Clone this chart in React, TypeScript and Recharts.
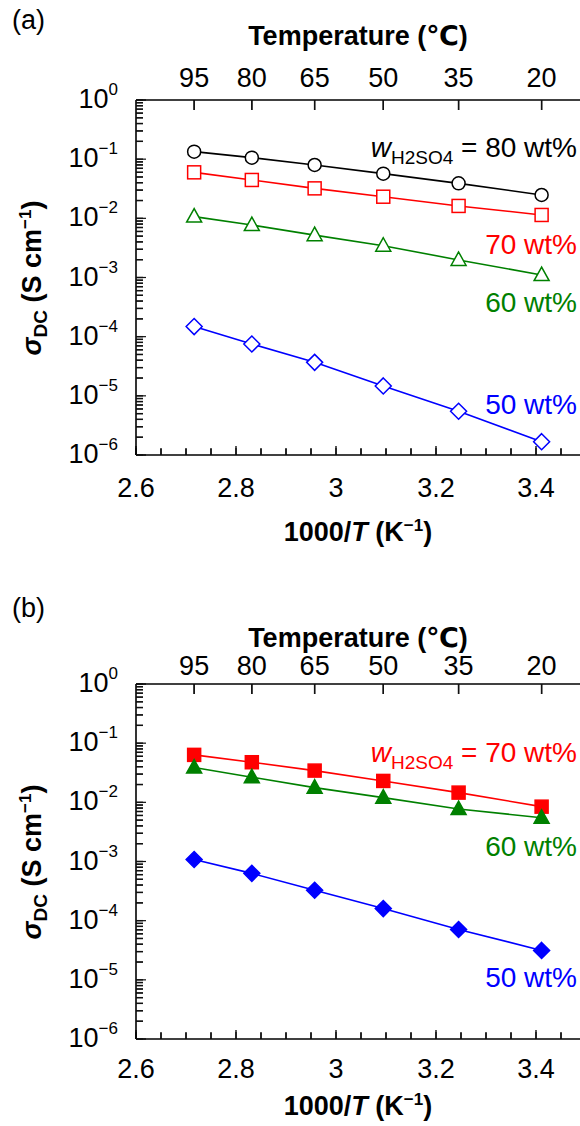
import React from 'react';
import { LineChart, Line, XAxis, YAxis, ReferenceLine } from 'recharts';

const FONT = '"Liberation Sans", Arial, "DejaVu Sans", sans-serif';

// measurement temperatures (top axis) and their 1000/T positions
const tempC = [95, 80, 65, 50, 35, 20];
const invT = tempC.map((t) => 1000 / (t + 273.15));

// panel (a) - open symbols
const a80 = [0.134, 0.106, 0.0797, 0.0569, 0.039, 0.0248];
const a70 = [0.0599, 0.0445, 0.0321, 0.0232, 0.0162, 0.0114];
const a60 = [0.0107, 0.0077, 0.0052, 0.00345, 0.00198, 0.0011];
const a50 = [1.48e-4, 7.5e-5, 3.68e-5, 1.47e-5, 5.5e-6, 1.68e-6];

// panel (b) - filled symbols
const b70 = [0.0634, 0.0476, 0.0344, 0.023, 0.0146, 0.00845];
const b60 = [0.0387, 0.0266, 0.0177, 0.012, 0.0077, 0.0055];
const b50 = [1.08e-3, 6.3e-4, 3.27e-4, 1.6e-4, 7.1e-5, 3.14e-5];

const xMajor = [2.6, 2.8, 3, 3.2, 3.4];
const xMinor = [2.65, 2.7, 2.75, 2.85, 2.9, 2.95, 3.05, 3.1, 3.15, 3.25, 3.3, 3.35, 3.45];
const decades = [-6, -5, -4, -3, -2, -1, 0];
const mantissas = [1, 2, 3, 4, 5, 6, 7, 8, 9];

const X_MIN = 2.6;
const X_MAX = 3.488;
const Y_MIN = 1e-6;
const Y_MAX = 1;

const xTicks = [...xMajor, ...xMinor].sort((p, q) => p - q);
const yTicks = decades
  .flatMap((d) => mantissas.map((m) => m * Math.pow(10, d)))
  .filter((v) => v <= 1.0000001);

// plot box is 444 x 355 px; used to turn tick lengths into data units
const DEC_PX = 355 / 6;
const X_PX = 444 / (X_MAX - X_MIN);

type Shape = 'circle' | 'square' | 'triangle' | 'diamond';
interface Series {
  name: string;
  values: number[];
  color: string;
  shape: Shape;
  filled: boolean;
}

const seriesA: Series[] = [
  { name: '80', values: a80, color: '#000000', shape: 'circle', filled: false },
  { name: '70', values: a70, color: '#ff0000', shape: 'square', filled: false },
  { name: '60', values: a60, color: '#008000', shape: 'triangle', filled: false },
  { name: '50', values: a50, color: '#0000ff', shape: 'diamond', filled: false },
];
const seriesB: Series[] = [
  { name: '70', values: b70, color: '#ff0000', shape: 'square', filled: true },
  { name: '60', values: b60, color: '#008000', shape: 'triangle', filled: true },
  { name: '50', values: b50, color: '#0000ff', shape: 'diamond', filled: true },
];

const isXMajor = (v: number) => xMajor.some((m) => Math.abs(m - v) < 1e-9);
const isYMajor = (v: number) => {
  const e = Math.floor(Math.log10(v) + 1e-9);
  return Math.abs(v / Math.pow(10, e) - 1) < 1e-6;
};

const makeDot = (s: Series) => (props: any) => {
  const { cx, cy, index } = props;
  if (cx == null || cy == null) return <g key={index} />;
  const fill = s.filled ? s.color : '#ffffff';
  const common = { fill, stroke: s.color, strokeWidth: 1.5 };
  if (s.shape === 'circle') return <circle key={index} cx={cx} cy={cy} r={6.5} {...common} />;
  if (s.shape === 'square') return <rect key={index} x={cx - 6.5} y={cy - 6.5} width={13} height={13} {...common} />;
  if (s.shape === 'triangle')
    return <polygon key={index} points={`${cx},${cy - 8} ${cx - 7.5},${cy + 5.5} ${cx + 7.5},${cy + 5.5}`} {...common} />;
  return <polygon key={index} points={`${cx},${cy - 8} ${cx + 8},${cy} ${cx},${cy + 8} ${cx - 8},${cy}`} {...common} />;
};

const tickStroke = { stroke: '#111', strokeWidth: 1.4 };

const BottomLabel = (props: any) => {
  const { x, y, payload, labelGap } = props;
  const v = payload.value;
  if (!isXMajor(v)) return <g />;
  return (
    <text x={x} y={y + labelGap} textAnchor="middle" dominantBaseline="central" fontSize={27} fontFamily={FONT} fill="#000">
      {String(v)}
    </text>
  );
};

const TopLabel = (props: any) => {
  const { x, y, payload, labelGap } = props;
  const i = invT.findIndex((v) => Math.abs(v - payload.value) < 1e-9);
  return (
    <text x={x} y={y - labelGap} textAnchor="middle" dominantBaseline="central" fontSize={27} fontFamily={FONT} fill="#000">
      {i >= 0 ? tempC[i] : ''}
    </text>
  );
};

const LeftLabel = (props: any) => {
  const { x, y, payload } = props;
  const v = payload.value;
  if (!isYMajor(v)) return <g />;
  const e = Math.round(Math.log10(v));
  return (
    <text x={x - 18} y={y - 1} textAnchor="end" dominantBaseline="central" fontSize={27} fontFamily={FONT} fill="#000">
      10
      <tspan fontSize={17} dy={-10}>
        {e === 0 ? '0' : '\u2212' + Math.abs(e)}
      </tspan>
    </text>
  );
};

const Note = ({ top, color, children }: { top: number; color: string; children: React.ReactNode }) => (
  <div
    style={{
      position: 'absolute',
      right: 3,
      top,
      transform: 'translateY(-50%)',
      color,
      fontSize: 28,
      lineHeight: 1,
      whiteSpace: 'nowrap',
    }}
  >
    {children}
  </div>
);

const WLabel = ({ pct }: { pct: string }) => (
  <>
    <span style={{ fontStyle: 'italic' }}>w</span>
    <span style={{ fontSize: 19, position: 'relative', top: 7 }}>H2SO4</span> = {pct} wt%
  </>
);

interface PanelProps {
  top: number;
  letter: string;
  series: Series[];
  notes: React.ReactNode;
  letterY: number;
  titleY: number;
  topGap: number;
  bottomGap: number;
  xTitleY: number;
}

const Panel = ({ top, letter, series, notes, letterY, titleY, topGap, bottomGap, xTitleY }: PanelProps) => (
  <div style={{ position: 'absolute', left: 0, top, width: 580, height: 560 }}>
    <div style={{ position: 'absolute', left: 12, top: letterY, transform: 'translateY(-50%)', fontSize: 27, lineHeight: 1 }}>
      ({letter})
    </div>
    <div
      style={{
        position: 'absolute',
        left: 358,
        top: titleY,
        transform: 'translate(-50%, -50%)',
        fontSize: 27,
        fontWeight: 'bold',
        lineHeight: 1,
        whiteSpace: 'nowrap',
      }}
    >
      Temperature (℃)
    </div>
    <div
      style={{
        position: 'absolute',
        left: 32,
        top: 278,
        transform: 'translate(-50%, -50%) rotate(-90deg)',
        fontSize: 27,
        fontWeight: 'bold',
        lineHeight: 1,
        whiteSpace: 'nowrap',
      }}
    >
      <span style={{ fontStyle: 'italic' }}>σ</span>
      <span style={{ fontSize: 19, position: 'relative', top: 6 }}>DC</span> (S cm
      <span style={{ fontSize: 17, position: 'relative', top: -10 }}>−1</span>)
    </div>
    <div
      style={{
        position: 'absolute',
        left: 358,
        top: xTitleY,
        transform: 'translate(-50%, -50%)',
        fontSize: 27,
        fontWeight: 'bold',
        lineHeight: 1,
        whiteSpace: 'nowrap',
      }}
    >
      1000/<span style={{ fontStyle: 'italic' }}>T</span> (K
      <span style={{ fontSize: 17, position: 'relative', top: -10 }}>−1</span>)
    </div>
    <LineChart width={580} height={560} margin={{ top: 70, right: 0, bottom: 75, left: 76 }}>
      <XAxis
        dataKey="x"
        type="number"
        domain={[X_MIN, X_MAX]}
        allowDataOverflow
        ticks={xTicks}
        interval={0}
        height={30}
        tickSize={-7}
        tickMargin={7}
        tickLine={tickStroke}
        tick={<BottomLabel labelGap={bottomGap} />}
        axisLine={{ stroke: '#000', strokeWidth: 1.6 }}
      />
      <XAxis
        xAxisId="top"
        orientation="top"
        dataKey="x"
        type="number"
        domain={[X_MIN, X_MAX]}
        allowDataOverflow
        ticks={invT}
        interval={0}
        height={30}
        tickSize={-10}
        tickMargin={10}
        tickLine={tickStroke}
        tick={<TopLabel labelGap={topGap} />}
        axisLine={{ stroke: '#000', strokeWidth: 1.6 }}
      />
      <YAxis
        type="number"
        scale="log"
        domain={[Y_MIN, Y_MAX]}
        allowDataOverflow
        ticks={yTicks}
        interval={0}
        width={60}
        tickSize={-7}
        tickMargin={7}
        tickLine={tickStroke}
        tick={<LeftLabel />}
        axisLine={{ stroke: '#000', strokeWidth: 1.6 }}
      />
      {/* inward tick marks drawn as short segments, in data units */}
      {xTicks.map((v) => (
        <ReferenceLine
          key={`b${v}`}
          segment={[
            { x: v, y: Y_MIN },
            { x: v, y: Y_MIN * Math.pow(10, (isXMajor(v) ? 9 : 6) / DEC_PX) },
          ]}
          ifOverflow="visible"
          {...tickStroke}
        />
      ))}
      {invT.map((v) => (
        <ReferenceLine
          key={`t${v}`}
          segment={[
            { x: v, y: Y_MAX },
            { x: v, y: Y_MAX * Math.pow(10, -10 / DEC_PX) },
          ]}
          ifOverflow="visible"
          {...tickStroke}
        />
      ))}
      {yTicks.map((v) => (
        <ReferenceLine
          key={`l${v}`}
          segment={[
            { x: X_MIN, y: v },
            { x: X_MIN + (isYMajor(v) ? 10 : 7) / X_PX, y: v },
          ]}
          ifOverflow="visible"
          stroke="#111"
          strokeWidth={1.2}
        />
      ))}
      {series.map((s) => (
        <Line
          key={s.name}
          data={s.values.map((v, i) => ({ x: invT[i], y: v }))}
          dataKey="y"
          type="linear"
          stroke={s.color}
          strokeWidth={1.6}
          dot={makeDot(s)}
          activeDot={false}
          isAnimationActive={false}
        />
      ))}
    </LineChart>
    {notes}
  </div>
);

export default function App() {
  return (
    <div
      style={{
        position: 'absolute',
        left: 0,
        top: 0,
        width: 580,
        height: 1126,
        background: '#fff',
        overflow: 'hidden',
        fontFamily: FONT,
        color: '#000',
      }}
    >
      <Panel
        top={0}
        letter="a"
        series={seriesA}
        letterY={20}
        titleY={36}
        topGap={22}
        bottomGap={33}
        xTitleY={532}
        notes={
          <>
            <Note top={148} color="#000">
              <WLabel pct="80" />
            </Note>
            <Note top={245} color="#ff0000">70 wt%</Note>
            <Note top={303} color="#008000">60 wt%</Note>
            <Note top={405} color="#0000ff">50 wt%</Note>
          </>
        }
      />
      <Panel
        top={584}
        letter="b"
        series={seriesB}
        letterY={24}
        titleY={54}
        topGap={18}
        bottomGap={30}
        xTitleY={522}
        notes={
          <>
            <Note top={169} color="#ff0000">
              <WLabel pct="70" />
            </Note>
            <Note top={263} color="#008000">60 wt%</Note>
            <Note top={394} color="#0000ff">50 wt%</Note>
          </>
        }
      />
    </div>
  );
}
